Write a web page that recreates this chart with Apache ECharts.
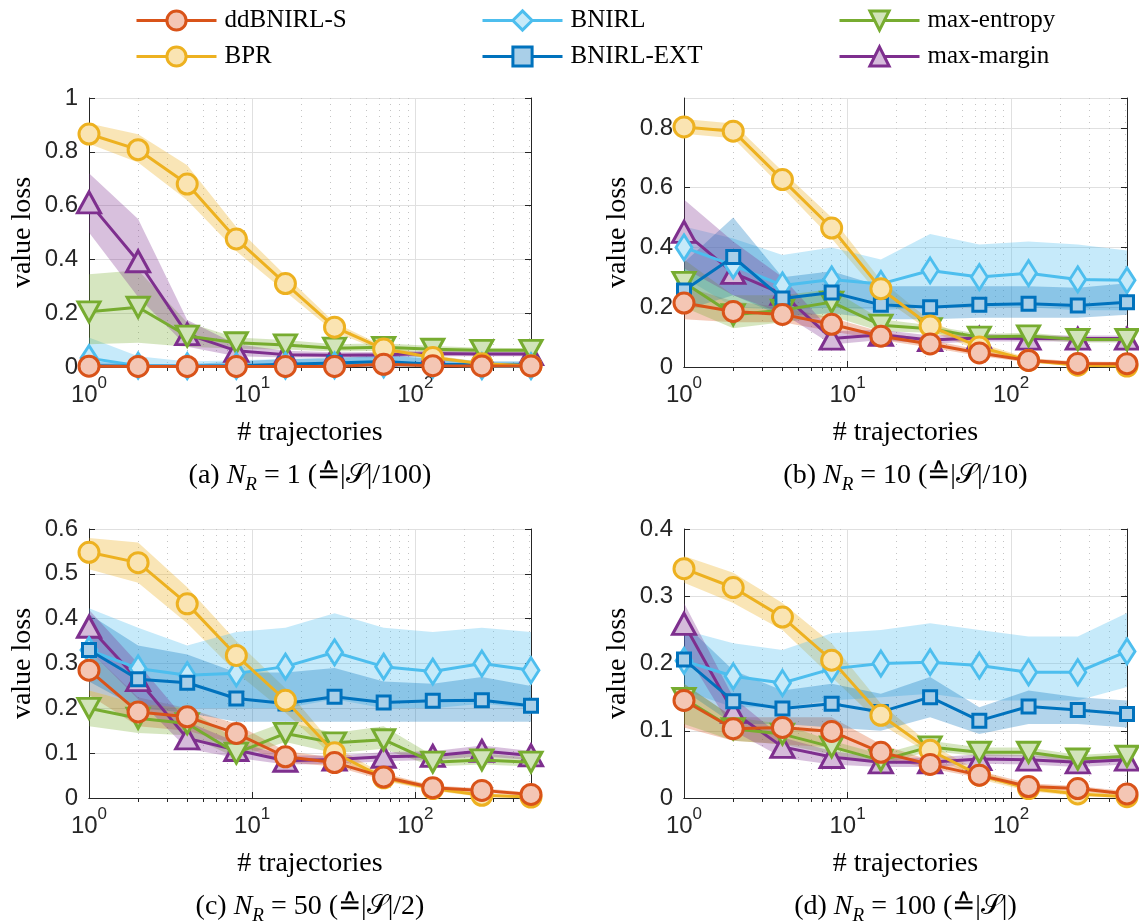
<!DOCTYPE html>
<html>
<head>
<meta charset="utf-8">
<script src="https://cdn.jsdelivr.net/npm/echarts@6/dist/echarts.min.js"></script>
<style>html,body{margin:0;padding:0;background:#fff;}#c{width:1139px;height:921px;}</style>
</head>
<body>
<div id="c"></div>
<script>
// ---------------- data ----------------
const trajectories = [1, 2, 4, 8, 16, 32, 64, 128, 256, 512];
const xMajorTicks = [1, 10, 100];
const xMinorTicks = [2, 3, 4, 5, 6, 7, 8, 9, 20, 30, 40, 50, 60, 70, 80, 90, 200, 300, 400, 500];
const methodNames = ['ddBNIRL-S', 'BPR', 'BNIRL', 'BNIRL-EXT', 'max-entropy', 'max-margin'];
const captions = ['(a)', '(b)', '(c)', '(d)'];
const nrValues = ['1', '10', '50', '100'];
const ratioTexts = ['/100', '/10', '/2', ''];
const yMax = [1, 0.9, 0.6, 0.4];
const yStep = [0.2, 0.2, 0.1, 0.1];
const yShowMaxLabel = [true, false, true, true];

// panel (a) N_R = 1
const aDdb = [0.003, 0.002, 0.002, 0.002, 0.002, 0.002, 0.010, 0.005, 0.004, 0.004];
const aDdbLo = [0, 0, 0, 0, 0, 0, 0.003, 0.001, 0.001, 0.001];
const aDdbHi = [0.008, 0.006, 0.006, 0.006, 0.006, 0.008, 0.020, 0.012, 0.010, 0.010];
const aBpr = [0.866, 0.808, 0.680, 0.476, 0.310, 0.148, 0.067, 0.035, 0.012, 0.005];
const aBprLo = [0.83, 0.76, 0.62, 0.43, 0.28, 0.13, 0.058, 0.028, 0.007, 0.002];
const aBprHi = [0.905, 0.865, 0.75, 0.52, 0.34, 0.165, 0.077, 0.045, 0.018, 0.009];
const aBn = [0.033, 0.005, 0.003, 0.004, 0.005, 0.006, 0.010, 0.008, 0.003, 0.003];
const aBnLo = [0, 0, 0, 0, 0, 0, 0, 0, 0, 0];
const aBnHi = [0.11, 0.04, 0.02, 0.025, 0.03, 0.03, 0.045, 0.04, 0.02, 0.02];
const aExt = [0.005, 0.003, 0.003, 0.005, 0.010, 0.015, 0.020, 0.010, 0.008, 0.008];
const aExtLo = [0, 0, 0, 0, 0, 0, 0.005, 0, 0, 0];
const aExtHi = [0.02, 0.01, 0.01, 0.02, 0.03, 0.035, 0.045, 0.03, 0.02, 0.02];
const aEnt = [0.205, 0.222, 0.115, 0.090, 0.082, 0.070, 0.073, 0.066, 0.062, 0.062];
const aEntLo = [0.085, 0.09, 0.075, 0.068, 0.065, 0.058, 0.06, 0.056, 0.054, 0.054];
const aEntHi = [0.345, 0.36, 0.165, 0.11, 0.10, 0.085, 0.088, 0.078, 0.072, 0.07];
const aMar = [0.612, 0.393, 0.122, 0.060, 0.046, 0.044, 0.046, 0.050, 0.048, 0.048];
const aMarLo = [0.50, 0.26, 0.075, 0.04, 0.035, 0.035, 0.036, 0.04, 0.04, 0.04];
const aMarHi = [0.72, 0.55, 0.175, 0.085, 0.06, 0.055, 0.056, 0.06, 0.058, 0.058];

// panel (b) N_R = 10
const bDdb = [0.214, 0.186, 0.176, 0.143, 0.103, 0.077, 0.047, 0.022, 0.012, 0.011];
const bDdbLo = [0.16, 0.15, 0.15, 0.12, 0.09, 0.065, 0.037, 0.015, 0.007, 0.006];
const bDdbHi = [0.27, 0.22, 0.20, 0.165, 0.118, 0.09, 0.058, 0.03, 0.018, 0.017];
const bBpr = [0.803, 0.789, 0.627, 0.465, 0.262, 0.137, 0.067, 0.022, 0.006, 0.003];
const bBprLo = [0.78, 0.765, 0.60, 0.43, 0.235, 0.12, 0.055, 0.015, 0.002, 0];
const bBprHi = [0.83, 0.815, 0.655, 0.50, 0.29, 0.155, 0.08, 0.03, 0.012, 0.007];
const bBn = [0.400, 0.340, 0.273, 0.293, 0.278, 0.323, 0.301, 0.314, 0.293, 0.290];
const bBnLo = [0.30, 0.20, 0.19, 0.20, 0.19, 0.20, 0.20, 0.20, 0.19, 0.19];
const bBnHi = [0.47, 0.43, 0.375, 0.40, 0.36, 0.445, 0.41, 0.42, 0.41, 0.39];
const bExt = [0.256, 0.368, 0.229, 0.249, 0.208, 0.200, 0.208, 0.212, 0.206, 0.217];
const bExtLo = [0.19, 0.24, 0.17, 0.18, 0.16, 0.16, 0.165, 0.165, 0.165, 0.175];
const bExtHi = [0.35, 0.50, 0.30, 0.32, 0.27, 0.27, 0.27, 0.27, 0.265, 0.28];
const bEnt = [0.283, 0.175, 0.190, 0.217, 0.140, 0.128, 0.100, 0.104, 0.092, 0.092];
const bEntLo = [0.20, 0.13, 0.15, 0.17, 0.12, 0.115, 0.09, 0.092, 0.082, 0.082];
const bEntHi = [0.36, 0.24, 0.24, 0.26, 0.16, 0.14, 0.11, 0.115, 0.10, 0.10];
const bMar = [0.452, 0.315, 0.245, 0.095, 0.108, 0.090, 0.097, 0.095, 0.095, 0.095];
const bMarLo = [0.33, 0.24, 0.18, 0.075, 0.09, 0.078, 0.085, 0.085, 0.085, 0.085];
const bMarHi = [0.56, 0.42, 0.30, 0.12, 0.125, 0.105, 0.11, 0.105, 0.105, 0.105];

// panel (c) N_R = 50
const cDdb = [0.285, 0.192, 0.181, 0.144, 0.092, 0.079, 0.047, 0.023, 0.017, 0.008];
const cDdbLo = [0.23, 0.16, 0.15, 0.12, 0.08, 0.07, 0.04, 0.018, 0.012, 0.004];
const cDdbHi = [0.33, 0.225, 0.20, 0.165, 0.105, 0.09, 0.055, 0.028, 0.022, 0.012];
const cBpr = [0.548, 0.525, 0.433, 0.318, 0.218, 0.101, 0.045, 0.021, 0.006, 0.002];
const cBprLo = [0.51, 0.48, 0.39, 0.28, 0.19, 0.09, 0.038, 0.016, 0.002, 0];
const cBprHi = [0.58, 0.57, 0.47, 0.35, 0.245, 0.115, 0.053, 0.026, 0.01, 0.005];
const cBn = [0.330, 0.289, 0.274, 0.278, 0.293, 0.325, 0.293, 0.282, 0.300, 0.285];
const cBnLo = [0.24, 0.21, 0.20, 0.20, 0.20, 0.22, 0.20, 0.20, 0.21, 0.20];
const cBnHi = [0.423, 0.38, 0.34, 0.37, 0.38, 0.412, 0.38, 0.37, 0.38, 0.37];
const cExt = [0.330, 0.265, 0.257, 0.222, 0.211, 0.226, 0.213, 0.217, 0.218, 0.206];
const cExtLo = [0.26, 0.20, 0.19, 0.17, 0.17, 0.17, 0.17, 0.17, 0.17, 0.17];
const cExtHi = [0.41, 0.34, 0.32, 0.28, 0.28, 0.29, 0.26, 0.255, 0.27, 0.25];
const cEnt = [0.200, 0.178, 0.166, 0.100, 0.144, 0.123, 0.130, 0.080, 0.085, 0.080];
const cEntLo = [0.16, 0.145, 0.14, 0.09, 0.125, 0.10, 0.11, 0.07, 0.075, 0.07];
const cEntHi = [0.24, 0.21, 0.20, 0.13, 0.17, 0.145, 0.16, 0.095, 0.10, 0.09];
const cMar = [0.382, 0.263, 0.133, 0.107, 0.083, 0.086, 0.092, 0.094, 0.105, 0.095];
const cMarLo = [0.33, 0.22, 0.11, 0.09, 0.075, 0.076, 0.082, 0.085, 0.093, 0.085];
const cMarHi = [0.42, 0.30, 0.17, 0.125, 0.095, 0.095, 0.102, 0.104, 0.117, 0.105];

// panel (d) N_R = 100
const dDdb = [0.145, 0.103, 0.105, 0.099, 0.068, 0.050, 0.034, 0.017, 0.014, 0.006];
const dDdbLo = [0.105, 0.085, 0.08, 0.075, 0.06, 0.044, 0.03, 0.013, 0.01, 0.003];
const dDdbHi = [0.17, 0.12, 0.12, 0.12, 0.08, 0.056, 0.04, 0.022, 0.018, 0.01];
const dBpr = [0.341, 0.313, 0.269, 0.205, 0.123, 0.071, 0.034, 0.014, 0.006, 0.002];
const dBprLo = [0.32, 0.29, 0.25, 0.18, 0.11, 0.065, 0.028, 0.01, 0.003, 0];
const dBprHi = [0.36, 0.335, 0.29, 0.23, 0.14, 0.08, 0.04, 0.018, 0.01, 0.005];
const dBn = [0.204, 0.181, 0.171, 0.192, 0.200, 0.202, 0.197, 0.187, 0.187, 0.218];
const dBnLo = [0.16, 0.135, 0.135, 0.145, 0.15, 0.155, 0.145, 0.145, 0.145, 0.165];
const dBnHi = [0.25, 0.23, 0.22, 0.245, 0.25, 0.26, 0.25, 0.24, 0.24, 0.275];
const dExt = [0.206, 0.144, 0.133, 0.140, 0.128, 0.150, 0.115, 0.136, 0.131, 0.125];
const dExtLo = [0.16, 0.11, 0.11, 0.105, 0.10, 0.12, 0.095, 0.11, 0.11, 0.105];
const dExtHi = [0.26, 0.19, 0.16, 0.17, 0.155, 0.18, 0.135, 0.16, 0.15, 0.145];
const dEnt = [0.148, 0.103, 0.095, 0.076, 0.056, 0.076, 0.068, 0.068, 0.058, 0.062];
const dEntLo = [0.11, 0.085, 0.08, 0.065, 0.05, 0.07, 0.062, 0.062, 0.053, 0.056];
const dEntHi = [0.17, 0.12, 0.11, 0.085, 0.065, 0.085, 0.075, 0.075, 0.064, 0.068];
const dMar = [0.259, 0.128, 0.076, 0.061, 0.053, 0.053, 0.058, 0.057, 0.053, 0.057];
const dMarLo = [0.22, 0.10, 0.06, 0.05, 0.046, 0.046, 0.051, 0.05, 0.046, 0.05];
const dMarHi = [0.29, 0.15, 0.09, 0.07, 0.06, 0.06, 0.065, 0.064, 0.06, 0.064];

// ---------------- styles ----------------
const lineColors = ['#D95319', '#EDB120', '#4DBEEE', '#0072BD', '#77AC30', '#7E2F8E'];
const faceColors = ['#F4C6B4', '#FAE4B2', '#C6EAF9', '#A9CFE8', '#D2E4BA', '#D5BBDA'];
const bandColors = ['rgba(217,83,25,0.3)', 'rgba(237,177,32,0.33)', 'rgba(77,190,238,0.32)', 'rgba(0,114,189,0.3)', 'rgba(119,172,48,0.3)', 'rgba(126,47,142,0.3)'];
const symbols = ['circle', 'circle', 'diamond', 'rect', 'path://M0,0L20,0L10,18Z', 'triangle'];
const symbolSizes = [20, 20, [16, 25], 13, [22, 20], [23, 21]];
const drawOrder = [5, 4, 2, 3, 1, 0]; // z rank of each method (higher on top)

const grids = [
  { left: 89, top: 98, width: 442, height: 269 },
  { left: 684, top: 98, width: 443, height: 269 },
  { left: 89, top: 529, width: 442, height: 269 },
  { left: 684, top: 529, width: 443, height: 269 }
];

const panelMeans = [
  [aDdb, aBpr, aBn, aExt, aEnt, aMar],
  [bDdb, bBpr, bBn, bExt, bEnt, bMar],
  [cDdb, cBpr, cBn, cExt, cEnt, cMar],
  [dDdb, dBpr, dBn, dExt, dEnt, dMar]
];
const panelLo = [
  [aDdbLo, aBprLo, aBnLo, aExtLo, aEntLo, aMarLo],
  [bDdbLo, bBprLo, bBnLo, bExtLo, bEntLo, bMarLo],
  [cDdbLo, cBprLo, cBnLo, cExtLo, cEntLo, cMarLo],
  [dDdbLo, dBprLo, dBnLo, dExtLo, dEntLo, dMarLo]
];
const panelHi = [
  [aDdbHi, aBprHi, aBnHi, aExtHi, aEntHi, aMarHi],
  [bDdbHi, bBprHi, bBnHi, bExtHi, bEntHi, bMarHi],
  [cDdbHi, cBprHi, cBnHi, cExtHi, cEntHi, cMarHi],
  [dDdbHi, dBprHi, dBnHi, dExtHi, dEntHi, dMarHi]
];

const axisColor = '#262626';
const gridColor = '#E0E0E0';
const minorGridColor = '#C4C4C4';
const sansFont = 'Liberation Sans';
const serifFont = 'Liberation Serif';

const xAxes = [], yAxes = [], series = [], titles = [];

grids.forEach((g, p) => {
  // bottom log axis (data axis)
  xAxes.push({
    gridIndex: p, type: 'log', logBase: 10, min: 1, max: 512, position: 'bottom',
    name: '# trajectories', nameLocation: 'middle', nameGap: 52,
    nameTextStyle: { fontFamily: serifFont, fontSize: 28, color: '#000' },
    axisLine: { show: true, lineStyle: { color: axisColor, width: 1 } },
    axisTick: { show: true, inside: true, length: 6, customValues: xMajorTicks, lineStyle: { color: axisColor } },
    axisLabel: {
      customValues: xMajorTicks, margin: 8, color: axisColor,
      formatter: v => '{b|10}{s|' + Math.round(Math.log10(v)) + '}',
      rich: {
        b: { fontFamily: sansFont, fontSize: 24, color: axisColor, lineHeight: 32, verticalAlign: 'bottom' },
        s: { fontFamily: sansFont, fontSize: 17, color: axisColor, lineHeight: 32, verticalAlign: 'top' }
      }
    },
    splitLine: { show: true, lineStyle: { color: gridColor, width: 1 } }
  });
  // top log axis (frame + minor grid)
  xAxes.push({
    gridIndex: p, type: 'log', logBase: 10, min: 1, max: 512, position: 'top',
    axisLine: { show: true, lineStyle: { color: axisColor, width: 1 } },
    axisTick: { show: true, inside: true, length: 4, customValues: xMinorTicks, lineStyle: { color: axisColor } },
    axisLabel: { show: false },
    splitLine: { show: true, lineStyle: { color: minorGridColor, width: 1, type: [1, 5] } }
  });
  yAxes.push({
    gridIndex: p, type: 'value', min: 0, max: yMax[p], interval: yStep[p], position: 'left',
    name: 'value loss', nameLocation: 'middle', nameGap: 52,
    nameTextStyle: { fontFamily: serifFont, fontSize: 28, color: '#000' },
    axisLine: { show: true, lineStyle: { color: axisColor, width: 1 } },
    axisTick: { show: true, inside: true, length: 6, lineStyle: { color: axisColor } },
    axisLabel: { fontFamily: sansFont, fontSize: 24, color: axisColor, margin: 11, showMaxLabel: yShowMaxLabel[p] },
    splitLine: { show: true, lineStyle: { color: gridColor, width: 1 } }
  });
  yAxes.push({
    gridIndex: p, type: 'value', min: 0, max: yMax[p], interval: yStep[p], position: 'right',
    axisLine: { show: true, lineStyle: { color: axisColor, width: 1 } },
    axisTick: { show: true, inside: true, length: 6, lineStyle: { color: axisColor } },
    axisLabel: { show: false },
    splitLine: { show: false }
  });

  // bands
  methodNames.forEach((m, k) => {
    const lo = panelLo[p][k], hi = panelHi[p][k];
    series.push({
      type: 'custom', name: m + ' band', coordinateSystem: 'cartesian2d',
      xAxisIndex: 2 * p, yAxisIndex: 2 * p, silent: true, z: 1,
      encode: { x: 0, y: [1, 2] },
      data: trajectories.map((x, i) => [x, lo[i], hi[i]]),
      renderItem: (params, api) => {
        if (params.dataIndexInside !== 0) return null;
        const n = params.dataInsideLength;
        const up = [], dn = [];
        for (let i = 0; i < n; i++) {
          up.push(api.coord([api.value(0, i), api.value(2, i)]));
          dn.push(api.coord([api.value(0, i), api.value(1, i)]));
        }
        return { type: 'polygon', shape: { points: up.concat(dn.reverse()) }, style: { fill: bandColors[k] }, silent: true };
      }
    });
  });
  // lines
  methodNames.forEach((m, k) => {
    const mean = panelMeans[p][k];
    series.push({
      type: 'line', name: m, xAxisIndex: 2 * p, yAxisIndex: 2 * p,
      data: trajectories.map((x, i) => [x, mean[i]]),
      symbol: symbols[k], symbolSize: symbolSizes[k], showAllSymbol: true,
      clip: false, z: 3 + drawOrder[k], animation: false,
      lineStyle: { color: lineColors[k], width: 3 },
      itemStyle: { color: faceColors[k], borderColor: lineColors[k], borderWidth: 3 },
      emphasis: { disabled: true }
    });
  });

  const cx = g.left + g.width / 2;
  const capStyle = { fontFamily: serifFont, fontSize: 28, fontWeight: 'normal', color: '#000', lineHeight: 36, verticalAlign: 'middle' };
  titles.push({
    text: '{t|' + captions[p] + ' }{i|N}{sub|R}{t| = ' + nrValues[p] + ' (}{t|\u2259}{t||}{cal|\uD835\uDCAE}{t||' + ratioTexts[p] + ')}',
    left: cx, textAlign: 'center', top: g.top + g.height + 91, padding: 0,
    textStyle: {
      fontWeight: 'normal',
      rich: {
        t: capStyle,
        i: Object.assign({}, capStyle, { fontStyle: 'italic' }),
        sub: Object.assign({}, capStyle, { fontStyle: 'italic', fontSize: 19, verticalAlign: 'bottom' }),
        cal: Object.assign({}, capStyle, { fontSize: 27 })
      }
    }
  });
});

const legendBase = {
  orient: 'vertical', itemWidth: 80, itemHeight: 24, itemGap: 11, top: 8, padding: 0,
  textStyle: { fontFamily: serifFont, fontSize: 25, color: '#000', padding: [0, 0, 0, 3] },
  lineStyle: { width: 3 },
  itemStyle: { borderWidth: 3 },
  selectedMode: false
};
const legends = [
  Object.assign({}, legendBase, { left: 135, data: [methodNames[0], methodNames[1]] }),
  Object.assign({}, legendBase, { left: 481, data: [methodNames[2], methodNames[3]] }),
  Object.assign({}, legendBase, { left: 838, data: [methodNames[4], methodNames[5]] })
];

const chart = echarts.init(document.getElementById('c'), null, { renderer: 'canvas' });
chart.setOption({
  animation: false,
  backgroundColor: '#fff',
  title: titles,
  legend: legends,
  grid: grids,
  xAxis: xAxes,
  yAxis: yAxes,
  series: series
});
</script>
</body>
</html>
